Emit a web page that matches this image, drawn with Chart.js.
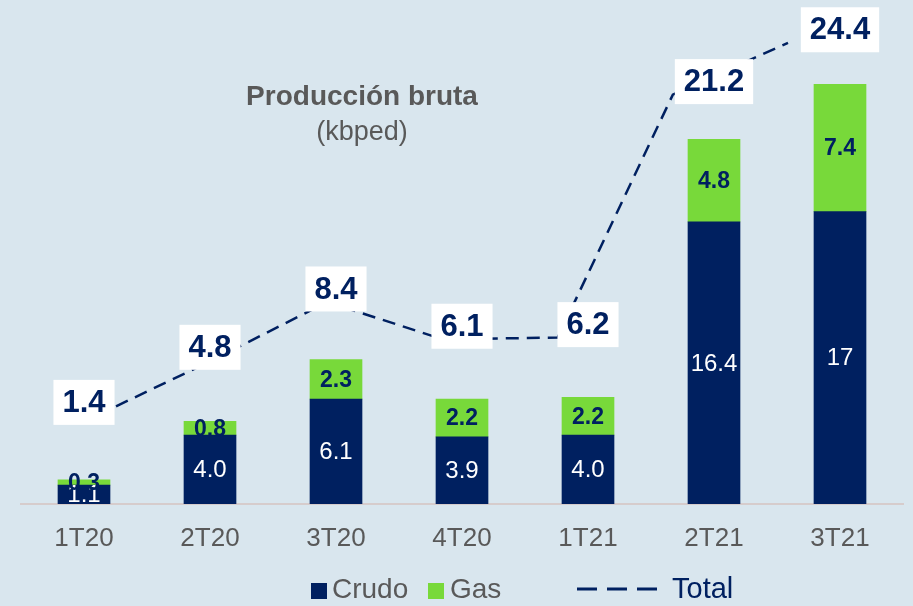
<!DOCTYPE html>
<html>
<head>
<meta charset="utf-8">
<script src="https://cdn.jsdelivr.net/npm/chart.js@4.4.0/dist/chart.umd.min.js"></script>
<style>
  html, body { margin: 0; padding: 0; background: #d9e6ee; }
</style>
</head>
<body>
<canvas id="chart" width="913" height="606"></canvas>
<script>
const quarters = ['1T20', '2T20', '3T20', '4T20', '1T21', '2T21', '3T21'];
const crudo = [1.1, 4.0, 6.1, 3.9, 4.0, 16.4, 17];
const gas = [0.3, 0.8, 2.3, 2.2, 2.2, 4.8, 7.4];
const totals = [1.4, 4.8, 8.4, 6.1, 6.2, 21.2, 24.4];
const crudoLabels = ['1.1', '4.0', '6.1', '3.9', '4.0', '16.4', '17'];
const gasLabels = ['0.3', '0.8', '2.3', '2.2', '2.2', '4.8', '7.4'];
const totalLabels = ['1.4', '4.8', '8.4', '6.1', '6.2', '21.2', '24.4'];

const NAVY = '#002060', GREEN = '#78d93a', GREY = '#595959', BG = '#d9e6ee';
const FONT = '"Liberation Sans", Arial, sans-serif';

const bgPlugin = {
    id: 'bg',
    beforeDraw: c => {
        const ctx = c.ctx;
        ctx.save();
        ctx.fillStyle = BG;
        ctx.fillRect(0, 0, c.width, c.height);
        ctx.restore();
    }
};

// value labels inside the bars and the white boxes for the total line
const labelsPlugin = {
    id: 'labels',
    afterDatasetsDraw: c => {
        const ctx = c.ctx, x = c.scales.x, y = c.scales.y, y1 = c.scales.y1;
        ctx.save();
        ctx.textAlign = 'center';
        ctx.textBaseline = 'middle';
        quarters.forEach((q, i) => {
            const cx = x.getPixelForValue(i);
            const base = y.getPixelForValue(0);
            const cTop = y.getPixelForValue(crudo[i]);
            const gTop = y.getPixelForValue(crudo[i] + gas[i]);
            ctx.font = `24px ${FONT}`;
            ctx.fillStyle = '#ffffff';
            ctx.fillText(crudoLabels[i], cx, (cTop + base) / 2 + 1);
            ctx.font = `bold 23px ${FONT}`;
            ctx.fillStyle = NAVY;
            ctx.fillText(gasLabels[i], cx, (cTop + gTop) / 2 + 1);

            ctx.font = `bold 31px ${FONT}`;
            const w = ctx.measureText(totalLabels[i]).width + 18;
            const ty = y1.getPixelForValue(totals[i]) - 13;
            ctx.fillStyle = '#ffffff';
            ctx.fillRect(cx - w / 2, ty - 22.5, w, 45);
            ctx.fillStyle = NAVY;
            ctx.fillText(totalLabels[i], cx, ty + 1);
        });
        ctx.restore();
    }
};

const titleLegendPlugin = {
    id: 'titleLegend',
    afterDraw: c => {
        const ctx = c.ctx;
        ctx.save();
        ctx.textBaseline = 'middle';
        ctx.textAlign = 'center';
        ctx.fillStyle = GREY;
        ctx.font = `bold 28px ${FONT}`;
        ctx.fillText('Producción bruta', 362, 97);
        ctx.font = `27px ${FONT}`;
        ctx.fillText('(kbped)', 362, 133);

        // legend
        ctx.textAlign = 'left';
        ctx.fillStyle = NAVY;
        ctx.fillRect(311, 583, 16, 16);
        ctx.fillStyle = GREEN;
        ctx.fillRect(428, 583, 16, 16);
        ctx.font = `28px ${FONT}`;
        ctx.fillStyle = GREY;
        ctx.fillText('Crudo', 332, 590);
        ctx.fillText('Gas', 450, 590);
        ctx.strokeStyle = NAVY;
        ctx.lineWidth = 3;
        ctx.setLineDash([20, 10]);
        ctx.beginPath();
        ctx.moveTo(577, 589);
        ctx.lineTo(657, 589);
        ctx.stroke();
        ctx.fillStyle = NAVY;
        ctx.font = `29px ${FONT}`;
        ctx.fillText('Total', 672, 590);
        ctx.restore();
    }
};

new Chart(document.getElementById('chart'), {
    type: 'bar',
    data: {
        labels: quarters,
        datasets: [
            { label: 'Crudo', data: crudo, backgroundColor: NAVY, barThickness: 52, grouped: false },
            { label: 'Gas', data: gas, backgroundColor: GREEN, barThickness: 52, grouped: false },
            { label: 'Total', type: 'line', data: totals.map((v, i) => ({ x: i, y: v })), xAxisID: 'x2', yAxisID: 'y1',
              borderColor: NAVY, borderWidth: 2.5, borderDash: [13, 8], pointRadius: 0, fill: false, tension: 0 }
        ]
    },
    options: {
        responsive: false, animation: false,
        layout: { padding: { left: 21, right: 10, top: 0, bottom: 0 } },
        plugins: { legend: { display: false }, tooltip: { enabled: false }, title: { display: false } },
        scales: {
            x: {
                stacked: true,
                grid: { display: false, drawTicks: false },
                border: { color: '#d6cccc', width: 2 },
                ticks: { color: GREY, font: { size: 26, family: FONT }, padding: 19 },
                afterFit: s => { s.height = 102; }
            },
            x2: { type: 'linear', display: false, min: -0.182, max: 6.52 },
            y: { stacked: true, display: false, min: 0, max: 29.3 },
            y1: { display: false, min: -4.07, max: 27.04 }
        }
    },
    plugins: [bgPlugin, labelsPlugin, titleLegendPlugin]
});
</script>
</body>
</html>
